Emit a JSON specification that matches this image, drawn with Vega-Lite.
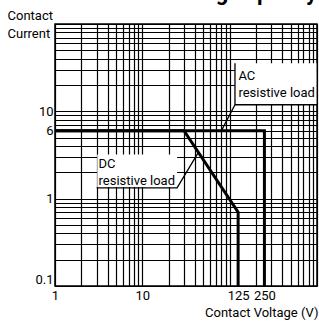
{
  "$schema": "https://vega.github.io/schema/vega-lite/v6.json",
  "width": 262,
  "height": 262,
  "autosize": {"type": "none"},
  "padding": {"left": 55, "top": 24, "right": 2, "bottom": 37},
  "config": {
    "font": "Roboto",
    "view": {"stroke": "black", "strokeWidth": 1.5},
    "axis": {"labelColor": "black", "titleColor": "black", "labelFontSize": 13, "titleFontSize": 13, "titleFontWeight": "normal", "ticks": false, "domain": false, "gridColor": "black", "gridOpacity": 1, "gridWidth": 1.2}
  },
  "title": {"text": "Maximum switching capacity", "anchor": "end", "frame": "group", "fontSize": 22, "fontWeight": "bold", "color": "black", "offset": 4},
  "datasets": {
    "curves": [
      {"series": "AC", "k": 0, "voltage": 1, "current": 6},
      {"series": "AC", "k": 1, "voltage": 250, "current": 6},
      {"series": "AC", "k": 2, "voltage": 250, "current": 0.1},
      {"series": "DC", "k": 0, "voltage": 1, "current": 6},
      {"series": "DC", "k": 1, "voltage": 30, "current": 6},
      {"series": "DC", "k": 2, "voltage": 125, "current": 0.7},
      {"series": "DC", "k": 3, "voltage": 125, "current": 0.1}
    ],
    "boxes": [
      {"box": "DC", "x": 3.05, "x2": 25, "y": 1.36, "y2": 3.2},
      {"box": "AC", "x": 115, "x2": 985, "y": 11.9, "y2": 35.6}
    ],
    "leaders": [
      {"id": "dc", "k": 0, "x": 3, "y": 1.33},
      {"id": "dc", "k": 1, "x": 25, "y": 1.33},
      {"id": "dc", "k": 2, "x": 43.5, "y": 3.35},
      {"id": "acbox", "k": 0, "x": 115, "y": 35.6},
      {"id": "acbox", "k": 1, "x": 115, "y": 11.9},
      {"id": "acbox", "k": 2, "x": 1000, "y": 11.9},
      {"id": "ac", "k": 0, "x": 115, "y": 11.9},
      {"id": "ac", "k": 1, "x": 81, "y": 6.1}
    ],
    "labels": [
      {"text": "DC\nresistive load", "x": 3.15, "y": 2.25},
      {"text": "AC\nresistive load", "x": 126, "y": 23}
    ]
  },
  "resolve": {"axis": {"x": "independent", "y": "independent"}},
  "layer": [
    {
      "data": {"name": "boxes"},
      "mark": {"type": "rect", "fill": "white", "stroke": null},
      "encoding": {
        "x": {"field": "x", "type": "quantitative", "scale": {"type": "log", "domain": [1, 1000], "nice": false},
          "axis": {"orient": "bottom", "values": [1,2,3,4,5,6,7,8,9,10,20,30,40,50,60,70,80,90,100,200,300,400,500,600,700,800,900,1000], "labels": false, "title": null, "grid": true}},
        "x2": {"field": "x2"},
        "y": {"field": "y", "type": "quantitative", "scale": {"type": "log", "domain": [0.1, 100], "nice": false},
          "axis": {"orient": "left", "values": [0.1,0.2,0.3,0.4,0.5,0.6,0.7,0.8,0.9,1,2,3,4,5,6,7,8,9,10,20,30,40,50,60,70,80,90,100], "labels": false, "title": null, "grid": true}},
        "y2": {"field": "y2"}
      }
    },
    {
      "data": {"name": "leaders"},
      "mark": {"type": "line", "color": "black", "strokeWidth": 1.3},
      "encoding": {
        "x": {"field": "x", "type": "quantitative", "scale": {"type": "log", "domain": [1, 1000], "nice": false}, "axis": null},
        "y": {"field": "y", "type": "quantitative", "scale": {"type": "log", "domain": [0.1, 100], "nice": false}, "axis": null},
        "detail": {"field": "id"},
        "order": {"field": "k"}
      }
    },
    {
      "data": {"name": "curves"},
      "mark": {"type": "line", "color": "black", "strokeWidth": 3, "strokeJoin": "miter"},
      "encoding": {
        "x": {"field": "voltage", "type": "quantitative", "scale": {"type": "log", "domain": [1, 1000], "nice": false},
          "axis": {"orient": "bottom", "values": [1, 10, 125, 250], "grid": false, "labelFlush": false, "labelPadding": 3, "title": "Contact Voltage (V)", "titleX": 263, "titleY": 30, "titleAlign": "right", "titleBaseline": "alphabetic", "titleAnchor": "end"}},
        "y": {"field": "current", "type": "quantitative", "scale": {"type": "log", "domain": [0.1, 100], "nice": false},
          "axis": {"orient": "left", "values": [0.1, 1, 6, 10], "grid": false, "labelFlush": true, "labelPadding": 2, "title": ["Contact", "Current"], "titleAngle": 0, "titleAlign": "left", "titleBaseline": "alphabetic", "titleX": -48, "titleY": -5, "titleLineHeight": 18}},
        "detail": {"field": "series"},
        "order": {"field": "k"}
      }
    },
    {
      "data": {"name": "labels"},
      "mark": {"type": "text", "align": "left", "baseline": "alphabetic", "fontSize": 13, "lineBreak": "\n", "lineHeight": 17, "color": "black"},
      "encoding": {
        "x": {"field": "x", "type": "quantitative", "scale": {"type": "log", "domain": [1, 1000], "nice": false}, "axis": null},
        "y": {"field": "y", "type": "quantitative", "scale": {"type": "log", "domain": [0.1, 100], "nice": false}, "axis": null},
        "text": {"field": "text"}
      }
    }
  ]
}
